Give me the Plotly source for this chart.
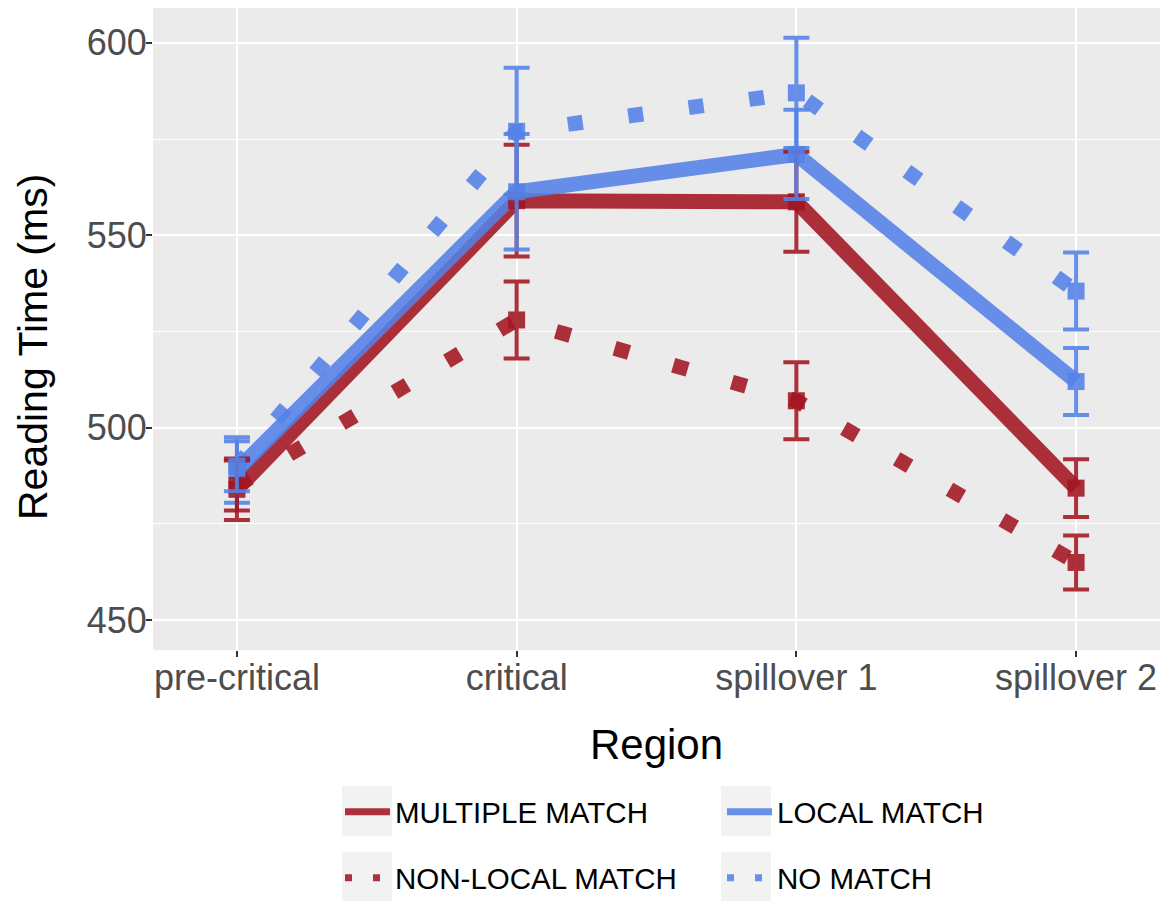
import plotly.graph_objects as go

# ---- data ----
regions = ["pre-critical", "critical", "spillover 1", "spillover 2"]

multiple_match = [484.0, 559.0, 558.7, 484.3]
multiple_match_se = [8.0, 14.5, 13.0, 7.5]

local_match = [489.0, 561.3, 571.0, 512.0]
local_match_se = [8.5, 15.0, 11.6, 8.7]

nonlocal_match = [485.0, 528.0, 507.0, 465.0]
nonlocal_match_se = [6.5, 10.0, 10.0, 7.0]

no_match = [490.0, 577.0, 587.0, 535.5]
no_match_se = [6.5, 16.5, 14.3, 10.0]

series_names = ["MULTIPLE MATCH", "LOCAL MATCH", "NON-LOCAL MATCH", "NO MATCH"]
y_title = "Reading Time (ms)"
x_title = "Region"

# ---- styles ----
RED = "rgb(163,22,33)"
BLUE = "rgb(84,130,232)"
OPAC = 0.88
FONT = "Liberation Sans, Arial, Helvetica, sans-serif"

W, H = 1168, 901
PANEL_L, PANEL_R, PANEL_T, PANEL_B = 153, 1160, 8, 650  # page pixels
L = PANEL_L
R = W - PANEL_R
T = PANEL_T
B = H - PANEL_B

series = [
    (series_names[0], multiple_match, multiple_match_se, RED, "solid", "legend"),
    (series_names[1], local_match, local_match_se, BLUE, "solid", "legend"),
    (series_names[2], nonlocal_match, nonlocal_match_se, RED, "15px,46px", "legend2"),
    (series_names[3], no_match, no_match_se, BLUE, "15px,46px", "legend2"),
]

fig = go.Figure()

# lines
for name, vals, se, col, dash, leg in series:
    fig.add_trace(go.Scatter(
        x=regions, y=vals, mode="lines", name=name, showlegend=False,
        line=dict(color=col, width=15, dash=dash), opacity=OPAC,
    ))

# points + error bars
for name, vals, se, col, dash, leg in series:
    fig.add_trace(go.Scatter(
        x=regions, y=vals, mode="markers", name=name, showlegend=False,
        marker=dict(symbol="square", size=17, color=col),
        error_y=dict(type="data", array=se, visible=True, color=col,
                     thickness=4, width=13),
        opacity=OPAC,
    ))

# legend entries (key glyphs only)
for name, vals, se, col, dash, leg in series:
    fig.add_trace(go.Scatter(
        x=[None], y=[None], mode="lines", name=name, legend=leg,
        line=dict(color=col, width=7, dash="solid" if dash == "solid" else "7px,21px"),
        opacity=OPAC,
    ))


def px_x(p):
    return (p - PANEL_L) / (PANEL_R - PANEL_L)


def px_y(p):
    return (PANEL_B - p) / (PANEL_B - PANEL_T)


# legend key background boxes (page pixels)
shapes = []
for (x0, x1) in [(342, 392), (721, 771)]:
    for (y0, y1) in [(786, 836), (852, 902)]:
        shapes.append(dict(type="rect", xref="paper", yref="paper",
                           x0=px_x(x0), x1=px_x(x1), y0=px_y(y1), y1=px_y(y0),
                           fillcolor="#F2F2F2", line=dict(width=0), layer="below"))

legend_common = dict(
    orientation="h", xref="container", yref="container",
    xanchor="left", yanchor="middle",
    font=dict(family=FONT, size=29.5, color="#000000"),
    itemwidth=45, entrywidthmode="pixels", entrywidth=322,
    bgcolor="rgba(0,0,0,0)",
)

fig.update_layout(
    width=W, height=H,
    margin=dict(l=L, r=R, t=T, b=B, autoexpand=False),
    paper_bgcolor="white", plot_bgcolor="#EBEBEB",
    font=dict(family=FONT, color="#4D4D4D"),
    shapes=shapes,
    legend=dict(x=340 / W, y=1 - 812 / H, **legend_common),
    legend2=dict(x=340 / W, y=1 - 878 / H, **legend_common),
    annotations=[dict(
        text=y_title, xref="paper", yref="paper", x=0, y=px_y(347),
        xshift=33 - PANEL_L, xanchor="center", yanchor="middle", textangle=-90,
        showarrow=False, font=dict(family=FONT, size=41, color="black"),
    )],
    xaxis=dict(
        type="category", categoryorder="array", categoryarray=regions,
        range=[-0.3, 3.3], showgrid=True, gridcolor="white", gridwidth=2.2,
        zeroline=False, showline=False,
        ticks="outside", ticklen=6, tickwidth=2, tickcolor="#333333",
        ticklabelstandoff=-10,
        tickfont=dict(family=FONT, size=36, color="#4D4D4D"),
        title=dict(text=x_title, font=dict(family=FONT, size=42, color="black"),
                   standoff=32),
        automargin=False,
    ),
    yaxis=dict(
        range=[442.25, 609.05], tickvals=[450, 500, 550, 600],
        showgrid=True, gridcolor="white", gridwidth=2.2,
        minor=dict(tickvals=[475, 525, 575], showgrid=True, gridcolor="white",
                   gridwidth=1, ticks=""),
        zeroline=False, showline=False,
        ticks="outside", ticklen=6, tickwidth=2, tickcolor="#333333",
        ticklabelstandoff=-8,
        tickfont=dict(family=FONT, size=36, color="#4D4D4D"),
        automargin=False,
    ),
)

# remove the browser's default 8px body margin so the figure fills the window
fig.write_html("out.html",
               config={"displayModeBar": False},
               post_script="document.body.style.margin='0';document.body.style.overflow='hidden';")
